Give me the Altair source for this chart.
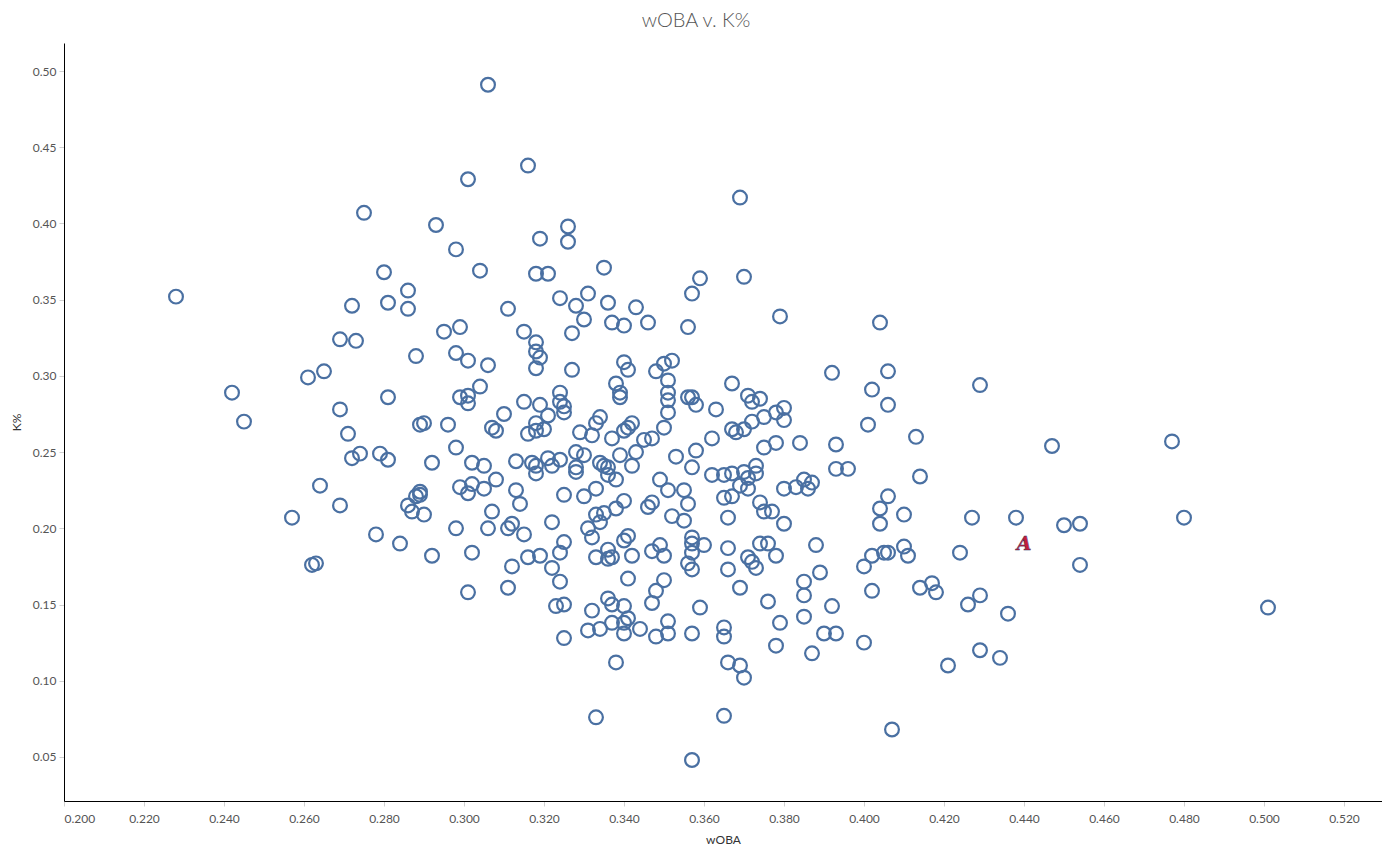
import altair as alt
import pandas as pd

# wOBA values (x) and K% values (y)
woba = [
    0.306, 0.316, 0.301, 0.369, 0.275, 0.293, 0.326, 0.319, 0.326, 0.298,
    0.228, 0.280, 0.286, 0.281, 0.286, 0.272, 0.295, 0.299, 0.269, 0.273,
    0.288, 0.298, 0.261, 0.265, 0.242, 0.281, 0.299, 0.269, 0.245, 0.271,
    0.289, 0.290, 0.296, 0.298, 0.272, 0.274, 0.279, 0.281, 0.292, 0.264,
    0.289, 0.299, 0.269, 0.257, 0.278, 0.284, 0.292, 0.262, 0.263, 0.298,
    0.288, 0.286, 0.287, 0.290, 0.289,
    0.304, 0.318, 0.321, 0.335, 0.359, 0.370, 0.324, 0.331, 0.328, 0.336,
    0.343, 0.357, 0.311, 0.330, 0.337, 0.340, 0.346, 0.356, 0.315, 0.327,
    0.318, 0.318, 0.319, 0.318, 0.301, 0.306, 0.327, 0.340, 0.341, 0.348,
    0.350, 0.352, 0.351, 0.338, 0.339, 0.339, 0.351, 0.351, 0.304, 0.301,
    0.301, 0.315, 0.319, 0.324, 0.324, 0.325, 0.325, 0.321, 0.310, 0.351,
    0.307, 0.308, 0.316, 0.318, 0.318, 0.320, 0.329, 0.333, 0.334, 0.332,
    0.337, 0.340, 0.341, 0.342, 0.345, 0.347, 0.350, 0.302, 0.305, 0.313,
    0.317, 0.318, 0.321, 0.322, 0.324, 0.328, 0.330, 0.334, 0.335, 0.336,
    0.339, 0.342, 0.343, 0.353, 0.328, 0.328, 0.336, 0.338, 0.318, 0.349,
    0.302, 0.301, 0.305, 0.308,
    0.313, 0.314, 0.325, 0.330, 0.333, 0.307, 0.306, 0.311, 0.312, 0.315,
    0.322, 0.331, 0.332, 0.333, 0.334, 0.335, 0.338, 0.340, 0.346, 0.347,
    0.351, 0.352, 0.302, 0.312, 0.316, 0.319, 0.322, 0.324, 0.325, 0.324,
    0.311, 0.301, 0.333, 0.336, 0.336, 0.337, 0.340, 0.341, 0.342, 0.341,
    0.347, 0.349, 0.350, 0.350, 0.348, 0.347, 0.323, 0.325, 0.332, 0.336,
    0.337, 0.340, 0.331, 0.334, 0.337, 0.340, 0.341, 0.340, 0.344, 0.325,
    0.348, 0.351, 0.351, 0.338, 0.333, 0.365, 0.357, 0.366, 0.369, 0.370,
    0.392, 0.406, 0.402, 0.406, 0.429, 0.401, 0.413, 0.414, 0.367, 0.356,
    0.357, 0.358, 0.363, 0.371, 0.372, 0.374, 0.378, 0.380, 0.380, 0.375,
    0.372, 0.370, 0.368, 0.367, 0.362, 0.375, 0.378, 0.384, 0.393, 0.358,
    0.357, 0.362, 0.365, 0.367, 0.370, 0.373, 0.373, 0.371, 0.369, 0.371,
    0.367, 0.365, 0.380, 0.383, 0.385, 0.386, 0.387, 0.393, 0.396, 0.355,
    0.356, 0.355, 0.374, 0.375, 0.377, 0.380, 0.366, 0.406, 0.404, 0.410,
    0.404, 0.427, 0.357, 0.357, 0.360, 0.357, 0.356, 0.357, 0.366, 0.366,
    0.371, 0.372, 0.373, 0.374, 0.376, 0.378, 0.388, 0.369, 0.376, 0.385,
    0.385, 0.389, 0.385, 0.379, 0.392, 0.359, 0.357, 0.365, 0.365, 0.390,
    0.393, 0.400, 0.378, 0.400, 0.402, 0.405, 0.406, 0.410, 0.411, 0.424,
    0.402, 0.414, 0.417, 0.418, 0.426, 0.429, 0.387,
    0.379, 0.404, 0.447, 0.477, 0.438, 0.450, 0.454, 0.454, 0.480, 0.501,
    0.436, 0.434, 0.429, 0.421, 0.407,
]
k_pct = [
    0.491, 0.438, 0.429, 0.417, 0.407, 0.399, 0.398, 0.390, 0.388, 0.383,
    0.352, 0.368, 0.356, 0.348, 0.344, 0.346, 0.329, 0.332, 0.324, 0.323,
    0.313, 0.315, 0.299, 0.303, 0.289, 0.286, 0.286, 0.278, 0.270, 0.262,
    0.268, 0.269, 0.268, 0.253, 0.246, 0.249, 0.249, 0.245, 0.243, 0.228,
    0.224, 0.227, 0.215, 0.207, 0.196, 0.190, 0.182, 0.176, 0.177, 0.200,
    0.221, 0.215, 0.211, 0.209, 0.222,
    0.369, 0.367, 0.367, 0.371, 0.364, 0.365, 0.351, 0.354, 0.346, 0.348,
    0.345, 0.354, 0.344, 0.337, 0.335, 0.333, 0.335, 0.332, 0.329, 0.328,
    0.322, 0.316, 0.312, 0.305, 0.310, 0.307, 0.304, 0.309, 0.304, 0.303,
    0.308, 0.310, 0.297, 0.295, 0.289, 0.286, 0.289, 0.284, 0.293, 0.287,
    0.282, 0.283, 0.281, 0.289, 0.283, 0.280, 0.276, 0.274, 0.275, 0.276,
    0.266, 0.264, 0.262, 0.269, 0.264, 0.265, 0.263, 0.269, 0.273, 0.261,
    0.259, 0.264, 0.266, 0.269, 0.258, 0.259, 0.266, 0.243, 0.241, 0.244,
    0.243, 0.241, 0.246, 0.241, 0.245, 0.250, 0.248, 0.243, 0.241, 0.240,
    0.248, 0.241, 0.250, 0.247, 0.240, 0.237, 0.235, 0.232, 0.236, 0.232,
    0.229, 0.223, 0.226, 0.232,
    0.225, 0.216, 0.222, 0.221, 0.226, 0.211, 0.200, 0.200, 0.203, 0.196,
    0.204, 0.200, 0.194, 0.209, 0.204, 0.210, 0.213, 0.218, 0.214, 0.217,
    0.225, 0.208, 0.184, 0.175, 0.181, 0.182, 0.174, 0.184, 0.191, 0.165,
    0.161, 0.158, 0.181, 0.180, 0.186, 0.181, 0.192, 0.195, 0.182, 0.167,
    0.185, 0.189, 0.182, 0.166, 0.159, 0.151, 0.149, 0.150, 0.146, 0.154,
    0.150, 0.149, 0.133, 0.134, 0.138, 0.138, 0.141, 0.131, 0.134, 0.128,
    0.129, 0.131, 0.139, 0.112, 0.076, 0.077, 0.048, 0.112, 0.110, 0.102,
    0.302, 0.303, 0.291, 0.281, 0.294, 0.268, 0.260, 0.234, 0.295, 0.286,
    0.286, 0.281, 0.278, 0.287, 0.283, 0.285, 0.276, 0.279, 0.271, 0.273,
    0.270, 0.265, 0.263, 0.265, 0.259, 0.253, 0.256, 0.256, 0.255, 0.251,
    0.240, 0.235, 0.235, 0.236, 0.237, 0.241, 0.236, 0.233, 0.228, 0.226,
    0.221, 0.220, 0.226, 0.227, 0.232, 0.226, 0.230, 0.239, 0.239, 0.225,
    0.216, 0.205, 0.217, 0.211, 0.211, 0.203, 0.207, 0.221, 0.213, 0.209,
    0.203, 0.207, 0.194, 0.190, 0.189, 0.184, 0.177, 0.173, 0.187, 0.173,
    0.181, 0.178, 0.174, 0.190, 0.190, 0.182, 0.189, 0.161, 0.152, 0.165,
    0.156, 0.171, 0.142, 0.138, 0.149, 0.148, 0.131, 0.135, 0.129, 0.131,
    0.131, 0.125, 0.123, 0.175, 0.182, 0.184, 0.184, 0.188, 0.182, 0.184,
    0.159, 0.161, 0.164, 0.158, 0.150, 0.156, 0.118,
    0.339, 0.335, 0.254, 0.257, 0.207, 0.202, 0.203, 0.176, 0.207, 0.148,
    0.144, 0.115, 0.120, 0.110, 0.068,
]

# highlighted player (drawn with the Braves "A" glyph)
logo_woba = [0.440]
logo_k = [0.190]
logo_text = ["A"]

x_ticks = [0.20, 0.22, 0.24, 0.26, 0.28, 0.30, 0.32, 0.34, 0.36, 0.38,
           0.40, 0.42, 0.44, 0.46, 0.48, 0.50, 0.52]
y_ticks = [0.05, 0.10, 0.15, 0.20, 0.25, 0.30, 0.35, 0.40, 0.45, 0.50]

df = pd.DataFrame({"woba": woba, "k": k_pct})
logo_df = pd.DataFrame({"woba": logo_woba, "k": logo_k, "t": logo_text})

xscale = alt.Scale(domain=[0.2, 0.5295], nice=False, zero=False)
yscale = alt.Scale(domain=[0.0211, 0.5184], nice=False, zero=False)

axis_common = dict(
    grid=False,
    domainColor="#000000",
    domainWidth=1,
    tickColor="#d0d0d0",
    tickSize=5,
    labelFont="Lato",
    labelFontSize=12,
    labelColor="#555555",
    titleFont="Lato",
    titleFontSize=12,
    titleFontWeight="normal",
    titleColor="#333333",
)

points = alt.Chart(df).mark_point(
    shape="circle", filled=False, size=190, strokeWidth=2.2,
    color="#4a70a2", opacity=1,
).encode(
    x=alt.X("woba:Q", scale=xscale,
            axis=alt.Axis(values=x_ticks, format=".3f", title="wOBA",
                          labelPadding=7, titlePadding=10, **axis_common)),
    y=alt.Y("k:Q", scale=yscale,
            axis=alt.Axis(values=y_ticks, format=".2f", title="K%",
                          labelPadding=3, titlePadding=9, **axis_common)),
)

logo = alt.Chart(logo_df).mark_text(
    font="DejaVu Serif", fontStyle="italic", fontWeight="bold",
    fontSize=19, color="#c41e3a", stroke="#1d2d5c", strokeWidth=0.4,
).encode(
    x=alt.X("woba:Q", scale=xscale),
    y=alt.Y("k:Q", scale=yscale),
    text="t:N",
)

chart = alt.layer(points, logo).properties(
    width=1318,
    height=758,
    title=alt.TitleParams("wOBA v. K%", font="Lato", fontSize=20,
                          fontWeight=300, color="#555555", offset=12, dx=-27),
    autosize=alt.AutoSizeParams(type="none"),
    padding={"left": 56, "top": 35, "right": 0, "bottom": 50},
).configure_view(stroke=None)

chart.save("out.html", embed_options={"renderer": "svg", "actions": False})
